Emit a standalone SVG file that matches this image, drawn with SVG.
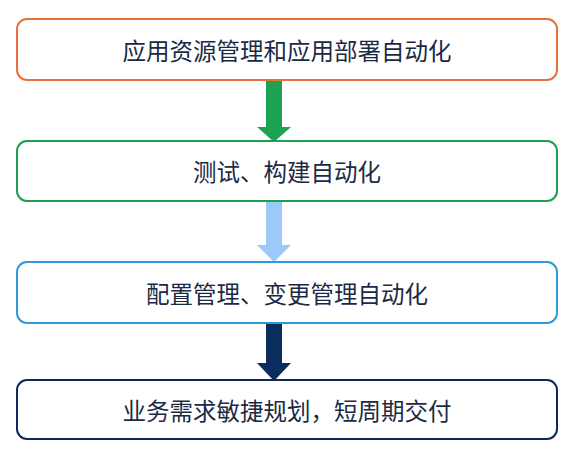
<svg xmlns="http://www.w3.org/2000/svg" width="578" height="458" viewBox="0 0 578 458">
<style>
.box{fill:#fff;stroke-width:2}
.t{font-family:"Noto Sans CJK SC","Noto Sans",sans-serif;font-size:23.5px;fill:#1b2a44;text-anchor:middle;dominant-baseline:central}
</style>
<rect width="578" height="458" fill="#fff"/>
<g id="connectors">
<polygon points="266,80 282,80 282,127 291,127 274,142 257,127 266,127" fill="#1ba352"/>
<polygon points="266,201 282,201 282,245 291,245 274,262 257,245 266,245" fill="#9dc9f9"/>
<polygon points="266,323 282,323 282,363 291,363 274,381 257,363 266,363" fill="#0b2d5e"/>
</g>
<g id="n1"><rect class="box" x="17" y="19" width="540" height="61" rx="10" stroke="#e8703a"/><text class="t" x="287" y="50">应用资源管理和应用部署自动化</text></g>
<g id="n2"><rect class="box" x="17" y="141" width="540" height="60" rx="10" stroke="#1e9e4f"/><text class="t" x="287" y="171">测试、构建自动化</text></g>
<g id="n3"><rect class="box" x="17" y="262" width="540" height="61" rx="10" stroke="#2e9bd6"/><text class="t" x="287" y="293">配置管理、变更管理自动化</text></g>
<g id="n4"><rect class="box" x="17" y="380" width="540" height="59" rx="10" stroke="#0d2a5b"/><text class="t" x="287" y="410">业务需求敏捷规划，短周期交付</text></g>
</svg>
